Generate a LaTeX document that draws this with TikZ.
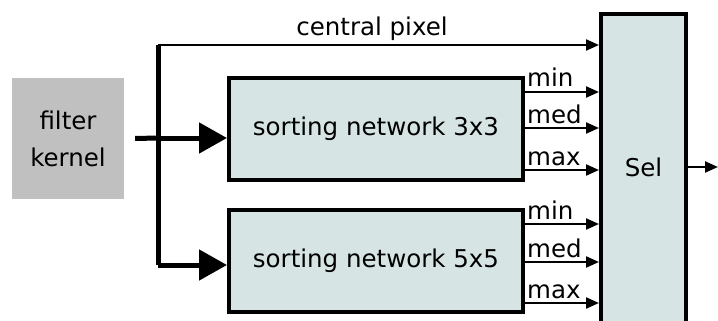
\documentclass[tikz,border=0pt]{standalone}
\usepackage{fontspec}
\setmainfont{DejaVu Sans}
\usetikzlibrary{arrows.meta}
\definecolor{kernelgray}{HTML}{C0C0C0}
\definecolor{boxfill}{HTML}{D7E4E4}
\begin{document}
\begin{tikzpicture}[x=1pt,y=-1pt,
  blockbox/.style={draw=black,line width=4pt,fill=boxfill,inner sep=0pt},
  bus/.style={line width=5pt,-{Triangle[length=28pt,width=30pt]}},
  sig/.style={line width=2.2pt,-{Triangle[length=13pt,width=11pt]}},
  lbl/.style={font=\fontsize{24.5}{27}\selectfont,inner sep=0pt},
  outlbl/.style={font=\fontsize{24.5}{27}\selectfont,inner sep=0pt,anchor=base west}]
\useasboundingbox (0,0) rectangle (718,321);
\begin{scope}
\clip (0,0) rectangle (718,321);
% input source
\node[fill=kernelgray,minimum width=112pt,minimum height=121pt,inner sep=0pt,
  align=center,font=\fontsize{24.5}{37}\selectfont] (kern) at (68,138.5) {filter\\kernel};
% sorting networks
\node[blockbox,minimum width=294pt,minimum height=102pt,lbl] (s3) at (376,129) {sorting network 3x3};
\node[blockbox,minimum width=294pt,minimum height=102pt,lbl] (s5) at (376,261) {sorting network 5x5};
% selector
\node[blockbox,minimum width=85pt,minimum height=340pt] (sel) at (643.5,184) {};
\node[lbl] (sellbl) at (643.5,167) {Sel};
\end{scope}
% distribution bus
\coordinate (split) at (158,138);
\coordinate (top) at (158,45);
\coordinate (bot) at (158,265);
\draw[line width=5pt] (kern.east) ++(11pt,0) -- (split);
\draw[bus] (split) -- (s3.west |- split);
\draw[line width=5pt] (top) -- (bot);
\draw[bus] (bot) -- (s5.west |- bot);
\draw[sig] (top) -- (sel.west |- top);
\node[outlbl,anchor=base] (cp) at (372,36) {central pixel};
% network outputs
\foreach \n/\ya/\yb/\yc in {s3/92/128/170, s5/224/262/303}{
  \draw[sig] (\n.east |- 0,\ya) -- (sel.west |- 0,\ya);
  \node[outlbl] at (527,\ya-5) {min};
  \draw[sig] (\n.east |- 0,\yb) -- (sel.west |- 0,\yb);
  \node[outlbl] at (527,\yb-5) {med};
  \draw[sig] (\n.east |- 0,\yc) -- (sel.west |- 0,\yc);
  \node[outlbl] at (527,\yc-5) {max};
}
% selected value out
\coordinate (out) at (718,167);
\draw[sig] (sel.east |- out) -- (out);
\end{tikzpicture}
\end{document}
